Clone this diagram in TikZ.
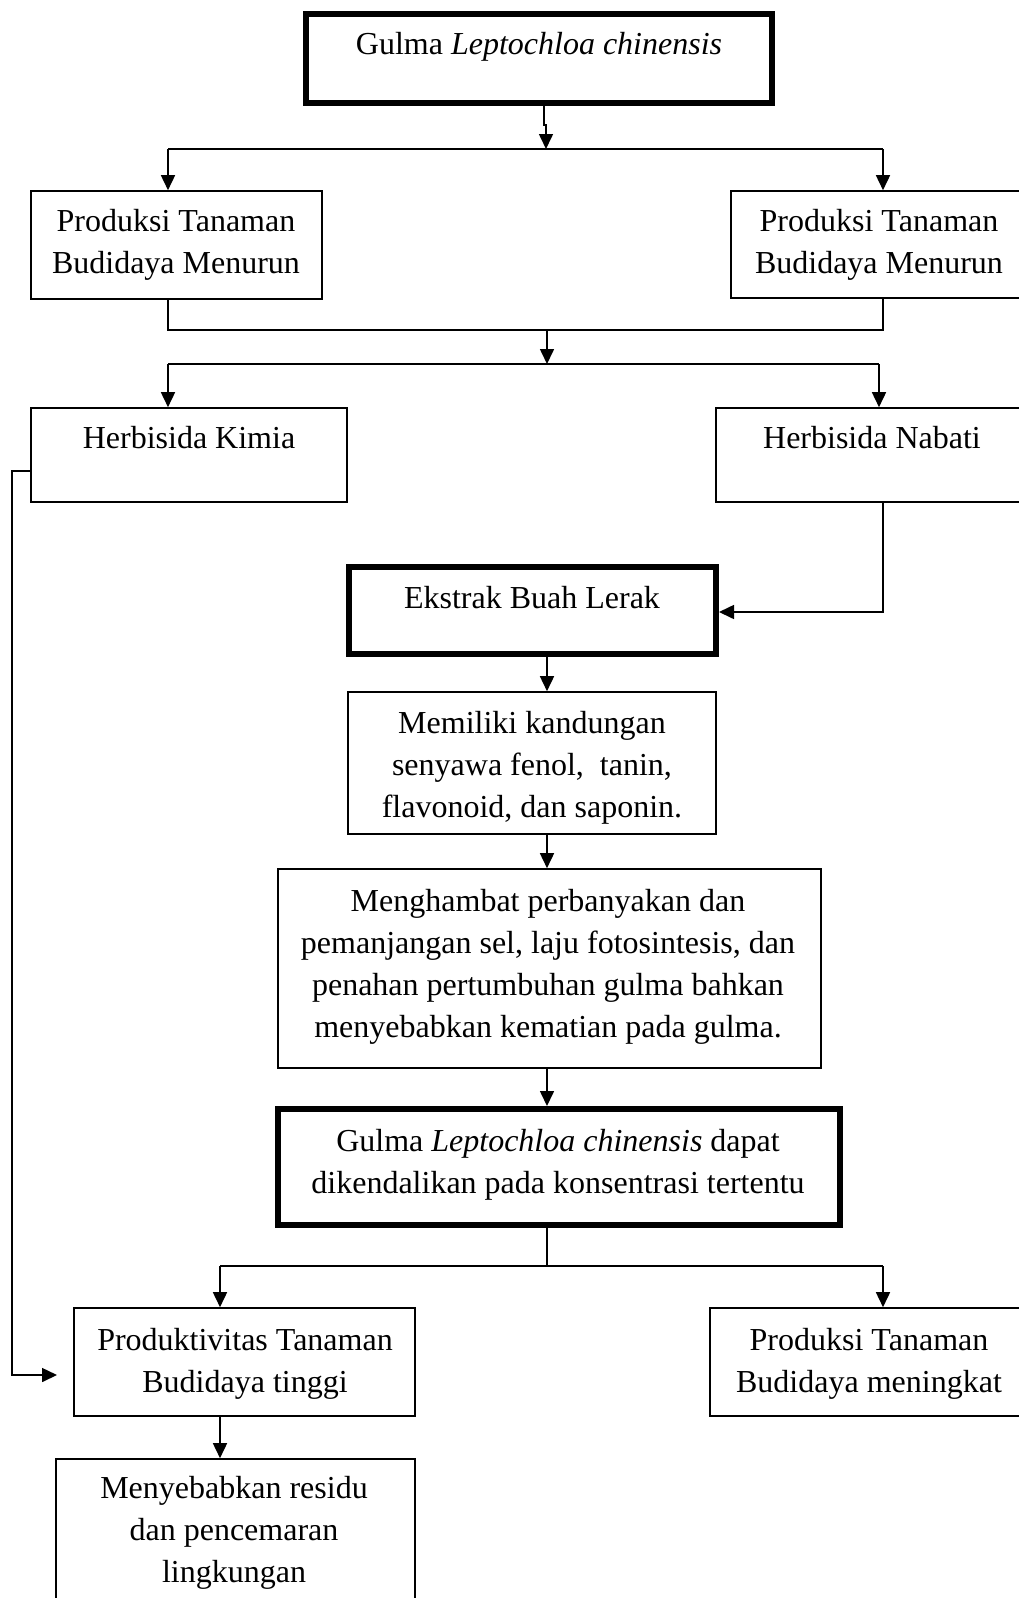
\documentclass[tikz,border=0pt]{standalone}
\usepackage{fontspec}
\setmainfont{Liberation Serif}
\usetikzlibrary{arrows.meta}
\tikzset{
  box/.style={draw, rectangle, line width=1.6pt, inner sep=0pt},
  thickbox/.style={draw, rectangle, line width=6pt, inner sep=0pt},
  txt/.style={anchor=base, align=center, inner sep=0pt, font=\fontsize{32}{42}\selectfont},
  ln/.style={line width=1.6pt},
  arr/.style={line width=1.6pt, -{Triangle[length=15pt,width=14pt]}},
}
\begin{document}
\begin{tikzpicture}[x=1pt,y=-1pt]
\useasboundingbox (0,0) rectangle (1019,1598);
% boxes
\node[thickbox, minimum width=466, minimum height=89] (top) at (539,58) {};
\node[box, minimum width=291, minimum height=108] (l1) at (176.5,245) {};
\node[box, minimum width=299, minimum height=107] (r1) at (880.5,244.5) {};
\node[box, minimum width=316, minimum height=94] (hk) at (189,455) {};
\node[box, minimum width=314, minimum height=94] (hn) at (873,455) {};
\node[thickbox, minimum width=367, minimum height=87] (ek) at (532.5,610.5) {};
\node[box, minimum width=368, minimum height=142] (mem) at (532,763) {};
\node[box, minimum width=543, minimum height=199] (meng) at (549.5,968.5) {};
\node[thickbox, minimum width=562, minimum height=116] (g2) at (559,1167) {};
\node[box, minimum width=341, minimum height=108] (prod) at (244.5,1362) {};
\node[box, minimum width=320, minimum height=108] (pm) at (870,1362) {};
\node[box, minimum width=359, minimum height=151] (meny) at (235.5,1534.5) {};
% texts (base anchor = baseline of the last line)
\node[txt] (ttop) at (539,54) {Gulma \textit{Leptochloa chinensis}};
\node[txt] (tl1) at (176,273) {Produksi Tanaman\\Budidaya Menurun};
\node[txt] (tr1) at (879,273) {Produksi Tanaman\\Budidaya Menurun};
\node[txt] (thk) at (189,448) {Herbisida Kimia};
\node[txt] (thn) at (872,448) {Herbisida Nabati};
\node[txt] (tek) at (532,608) {Ekstrak Buah Lerak};
\node[txt] (tmem) at (532,817) {Memiliki kandungan\\senyawa fenol,~ tanin,\\flavonoid, dan saponin.};
\node[txt] (tmeng) at (548,1037) {Menghambat perbanyakan dan\\pemanjangan sel, laju fotosintesis, dan\\penahan pertumbuhan gulma bahkan\\menyebabkan kematian pada gulma.};
\node[txt] (tg2) at (558,1193) {Gulma \textit{Leptochloa chinensis} dapat\\dikendalikan pada konsentrasi tertentu};
\node[txt] (tprod) at (245,1392) {Produktivitas Tanaman\\Budidaya tinggi};
\node[txt] (tpm) at (869,1392) {Produksi Tanaman\\Budidaya meningkat};
\node[txt] (tmeny) at (234,1582) {Menyebabkan residu\\dan pencemaran\\lingkungan};
% junction coordinates
\coordinate (tA) at (544,125);
\coordinate (tB) at (546,125);
\coordinate (h1M) at (546,149);
\coordinate (h1L) at (168,149);
\coordinate (h1R) at (883,149);
\coordinate (h2L) at (168,330);
\coordinate (h2R) at (883,330);
\coordinate (h2M) at (547,330);
\coordinate (h3M) at (547,364);
\coordinate (h3L) at (168,364);
\coordinate (h3R) at (879,364);
\coordinate (kL) at (12,471);
\coordinate (kB) at (12,1375);
\coordinate (kE) at (57,1375);
\coordinate (nC) at (883,612);
\coordinate (vx) at (547,0);
\coordinate (gJ) at (547,1266);
\coordinate (gL) at (220,1266);
\coordinate (gR) at (883,1266);
% connectors
\draw[arr] (top.south -| tA) -- (tA) -- (tB) -- (h1M);
\draw[ln] (h1L) -- (h1R);
\draw[arr] (h1L) -- (h1L |- l1.north);
\draw[arr] (h1R) -- (h1R |- r1.north);
\draw[ln] (l1.south -| h2L) -- (h2L) -- (h2R) -- (r1.south -| h2R);
\draw[arr] (h2M) -- (h3M);
\draw[ln] (h3L) -- (h3R);
\draw[arr] (h3L) -- (h3L |- hk.north);
\draw[arr] (h3R) -- (h3R |- hn.north);
\draw[arr] (hk.west |- kL) -- (kL) -- (kB) -- (kE);
\draw[arr] (hn.south -| nC) -- (nC) -- (ek.east |- nC);
\draw[arr] (ek.south -| vx) -- (mem.north -| vx);
\draw[arr] (mem.south -| vx) -- (meng.north -| vx);
\draw[arr] (meng.south -| vx) -- (g2.north -| vx);
\draw[ln] (g2.south -| vx) -- (gJ);
\draw[ln] (gL) -- (gR);
\draw[arr] (gL) -- (gL |- prod.north);
\draw[arr] (gR) -- (gR |- pm.north);
\draw[arr] (prod.south -| gL) -- (meny.north -| gL);
\end{tikzpicture}
\end{document}
